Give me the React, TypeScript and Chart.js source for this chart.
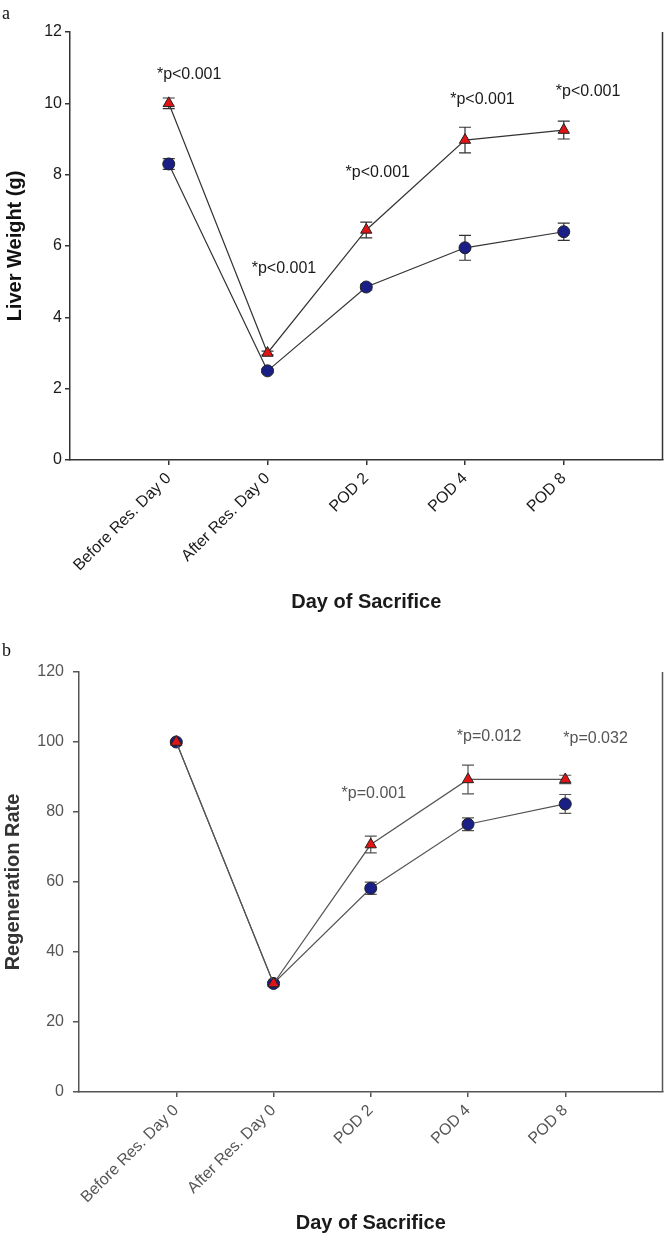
import React, { useEffect, useRef } from "react";
import { Chart, registerables } from "chart.js";

Chart.register(...registerables);

const categories = ["Before Res. Day 0", "After Res. Day 0", "POD 2", "POD 4", "POD 8"];

// Panel a: liver weight (g)
const weightBlue = [8.3, 2.5, 4.85, 5.95, 6.4];
const weightBlueErr = [0.15, 0.05, 0.08, 0.35, 0.24];
const weightRed = [10.0, 3.0, 6.45, 8.97, 9.25];
const weightRedErr = [0.15, 0.05, 0.22, 0.36, 0.25];
const weightPText = ["*p<0.001", "*p<0.001", "*p<0.001", "*p<0.001", "*p<0.001"];
const weightPX = [0.88, 1.84, 2.79, 3.85, 4.92];
const weightPY = [10.8, 5.38, 8.05, 10.1, 10.32];
const weightTicks = [0, 2, 4, 6, 8, 10, 12];

// Panel b: regeneration rate
const regenBlue = [100, 31, 58.2, 76.5, 82.3];
const regenBlueErr = [0.4, 0.4, 1.75, 1.8, 2.7];
const regenRed = [100, 31, 70.7, 89.3, 89.3];
const regenRedErr = [0.4, 0.4, 2.4, 4.1, 1.2];
const regenPText = ["*p=0.001", "*p=0.012", "*p=0.032"];
const regenPX = [2.7, 3.885, 4.98];
const regenPY = [85.2, 101.5, 100.9];
const regenTicks = [0, 20, 40, 60, 80, 100, 120];

const FONT = "'Liberation Sans', Arial, sans-serif";

type PanelCfg = {
  letter: string;
  blue: number[];
  blueErr: number[];
  red: number[];
  redErr: number[];
  pText: string[];
  pX: number[];
  pY: number[];
  yTicks: number[];
  yTitle: string;
  yWidth: number;
  top: number;
  xHeight: number;
  ink: string;
  tickInk: string;
  lineInk: string;
  yTickLen: number;
  yTickPad: number;
  yTitlePad: number;
};

function buildChart(canvas: HTMLCanvasElement, p: PanelCfg) {
  const toPts = (arr: number[]) => arr.map((v, i) => ({ x: i + 1, y: v }));
  const errs = [p.redErr, p.blueErr];

  const errorBars = {
    id: "errorBars",
    beforeDatasetsDraw(chart: any) {
      const ctx = chart.ctx;
      const ys = chart.scales.y;
      ctx.save();
      ctx.strokeStyle = p.lineInk;
      ctx.lineWidth = 1.2;
      chart.data.datasets.forEach((ds: any, di: number) => {
        const meta = chart.getDatasetMeta(di);
        meta.data.forEach((el: any, i: number) => {
          const v = ds.data[i].y;
          const e = errs[di][i];
          const x = el.x;
          const y1 = ys.getPixelForValue(v + e);
          const y2 = ys.getPixelForValue(v - e);
          ctx.beginPath();
          ctx.moveTo(x, y1);
          ctx.lineTo(x, y2);
          ctx.moveTo(x - 6, y1);
          ctx.lineTo(x + 6, y1);
          ctx.moveTo(x - 6, y2);
          ctx.lineTo(x + 6, y2);
          ctx.stroke();
        });
      });
      ctx.restore();
    },
  };

  const annotations = {
    id: "annotations",
    afterDatasetsDraw(chart: any) {
      const ctx = chart.ctx;
      const xs = chart.scales.x;
      const ys = chart.scales.y;
      const a = chart.chartArea;
      ctx.save();
      // right frame line
      ctx.strokeStyle = p.lineInk;
      ctx.lineWidth = 1.5;
      ctx.beginPath();
      ctx.moveTo(a.right, a.top);
      ctx.lineTo(a.right, a.bottom);
      ctx.stroke();
      ctx.fillStyle = p.tickInk;
      ctx.font = `16px ${FONT}`;
      ctx.textAlign = "left";
      ctx.textBaseline = "middle";
      p.pText.forEach((t, i) => {
        ctx.fillText(t, xs.getPixelForValue(p.pX[i]), ys.getPixelForValue(p.pY[i]));
      });
      ctx.fillStyle = "#111";
      ctx.font = `18px 'Liberation Serif', serif`;
      ctx.fillText(p.letter, 2, p.letter === "a" ? 14 : 30);
      ctx.restore();
    },
  };

  return new Chart(canvas, {
    type: "line",
    data: {
      datasets: [
        {
          label: "red",
          data: toPts(p.red),
          borderColor: p.lineInk,
          borderWidth: 1.2,
          pointStyle: "triangle",
          pointRadius: 6.5,
          pointBackgroundColor: "#e01414",
          pointBorderColor: "#222",
          pointBorderWidth: 1,
          tension: 0,
        },
        {
          label: "blue",
          data: toPts(p.blue),
          borderColor: p.lineInk,
          borderWidth: 1.2,
          pointStyle: "circle",
          pointRadius: 6,
          pointBackgroundColor: "#1a1f86",
          pointBorderColor: "#222",
          pointBorderWidth: 1,
          tension: 0,
        },
      ],
    },
    options: {
      animation: false,
      responsive: false,
      events: [],
      layout: { padding: { top: p.top, right: 3, left: 0, bottom: 0 } },
      plugins: { legend: { display: false }, tooltip: { enabled: false } },
      scales: {
        x: {
          type: "linear",
          min: 0,
          max: 6,
          afterBuildTicks: (s: any) => {
            s.ticks = categories.map((_, i) => ({ value: i + 1 }));
          },
          afterFit: (s: any) => {
            s.height = p.xHeight;
            s.paddingLeft = 0;
            s.paddingRight = 0;
          },
          ticks: {
            autoSkip: false,
            minRotation: 45,
            maxRotation: 45,
            padding: 4,
            color: p.tickInk,
            font: { family: FONT, size: 16 },
            callback: (v: any) => categories[Number(v) - 1] ?? "",
          },
          grid: {
            display: true,
            drawOnChartArea: false,
            drawTicks: true,
            tickLength: 5,
            color: p.lineInk,
            lineWidth: 1.5,
          },
          border: { display: true, color: p.lineInk, width: 1.5 },
          title: {
            display: true,
            text: "Day of Sacrifice",
            color: "#1a1a1a",
            font: { family: FONT, size: 20, weight: "bold" },
            padding: { top: 0, bottom: 7 },
          },
        },
        y: {
          type: "linear",
          min: p.yTicks[0],
          max: p.yTicks[p.yTicks.length - 1],
          afterBuildTicks: (s: any) => {
            s.ticks = p.yTicks.map((v) => ({ value: v }));
          },
          afterFit: (s: any) => {
            s.width = p.yWidth;
          },
          ticks: {
            padding: p.yTickPad,
            color: p.tickInk,
            font: { family: FONT, size: 16 },
          },
          grid: {
            display: true,
            drawOnChartArea: false,
            drawTicks: true,
            tickLength: p.yTickLen,
            color: p.lineInk,
            lineWidth: 1.5,
          },
          border: { display: true, color: p.lineInk, width: 1.5 },
          title: {
            display: true,
            text: p.yTitle,
            color: p.ink,
            font: { family: FONT, size: 20, weight: "bold" },
            padding: { top: p.yTitlePad, bottom: 0 },
          },
        },
      },
    },
    plugins: [errorBars, annotations],
  } as any);
}

const panelA: PanelCfg = {
  letter: "a",
  blue: weightBlue,
  blueErr: weightBlueErr,
  red: weightRed,
  redErr: weightRedErr,
  pText: weightPText,
  pX: weightPX,
  pY: weightPY,
  yTicks: weightTicks,
  yTitle: "Liver Weight (g)",
  yWidth: 70,
  top: 32,
  xHeight: 161,
  ink: "#111",
  tickInk: "#1a1a1a",
  lineInk: "#333",
  yTickLen: 5,
  yTickPad: 3,
  yTitlePad: 3,
};

const panelB: PanelCfg = {
  letter: "b",
  blue: regenBlue,
  blueErr: regenBlueErr,
  red: regenRed,
  redErr: regenRedErr,
  pText: regenPText,
  pX: regenPX,
  pY: regenPY,
  yTicks: regenTicks,
  yTitle: "Regeneration Rate",
  yWidth: 79,
  top: 51,
  xHeight: 150,
  ink: "#333",
  tickInk: "#555",
  lineInk: "#555",
  yTickLen: 6,
  yTickPad: 9,
  yTitlePad: 1,
};

function Panel({ cfg }: { cfg: PanelCfg }) {
  const ref = useRef<HTMLCanvasElement | null>(null);
  useEffect(() => {
    if (!ref.current) return;
    const c = buildChart(ref.current, cfg);
    return () => c.destroy();
  }, [cfg]);
  return <canvas ref={ref} width={670} height={621} style={{ display: "block", width: 670, height: 621 }} />;
}

export default function App() {
  return (
    <div style={{ position: "absolute", left: 0, top: 0, width: 670, height: 1242, background: "#fff" }}>
      <Panel cfg={panelA} />
      <Panel cfg={panelB} />
    </div>
  );
}
